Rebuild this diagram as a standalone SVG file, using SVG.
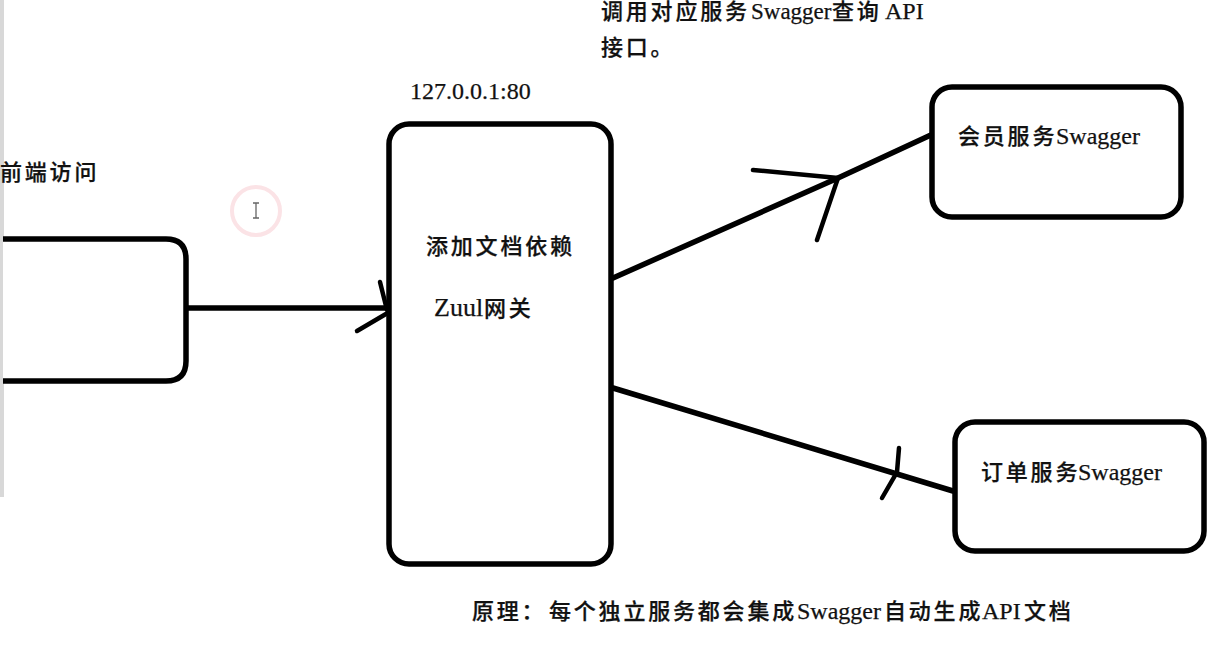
<svg xmlns="http://www.w3.org/2000/svg" width="1225" height="648" viewBox="0 0 1225 648">
<style>
.box{fill:#fff;stroke:#000;stroke-width:5.5}
.ln{fill:none;stroke:#000;stroke-width:5.5;stroke-linecap:round}
.thin{stroke-width:4.5}
text{font-family:"Liberation Serif","Noto Sans CJK SC",serif;font-size:22px;fill:#111;font-weight:500;stroke:#111;stroke-width:.25;letter-spacing:2.8px}
.l{font-size:24px;letter-spacing:0}
</style>
<rect width="1225" height="648" fill="#fff"/>
<rect x="0" y="0" width="4" height="497" fill="#d8d8d8"/>
<g id="cursor">
<circle cx="256" cy="211" r="24" fill="#fff" stroke="#fbe3e6" stroke-width="4"/>
<path d="M253 203h6M256 203v15M253 218h6" fill="none" stroke="#666" stroke-width="1.3"/>
</g>
<g id="connectors">
<path class="ln" d="M187 308H388"/>
<path class="ln thin" d="M380 282L387 310M357 331L391 311"/>
<path class="ln" d="M613 278L838 178L933 134"/>
<path class="ln thin" d="M753 170L838 178L817 240"/>
<path class="ln" d="M613 388L953 491"/>
<path class="ln thin" d="M899 448L897 472L882 498"/>
</g>
<g id="frontend">
<path class="box" d="M3 239H166Q186 239 186 259V361Q186 381 166 381H3"/>
<text x="0" y="180">前端访问</text>
</g>
<g id="gateway">
<rect class="box" x="389" y="124" width="222" height="440" rx="20"/>
<text x="426" y="254">添加文档依赖</text>
<text x="434" y="316"><tspan class="l" style="font-size:26px">Zuul</tspan><tspan x="484">网关</tspan></text>
</g>
<g id="member-service">
<rect class="box" x="932" y="87" width="249" height="130" rx="20"/>
<text x="958" y="144">会员服务<tspan class="l" x="1056">Swagger</tspan></text>
</g>
<g id="order-service">
<rect class="box" x="955" y="422" width="249" height="129" rx="20"/>
<text x="981" y="480">订单服务<tspan class="l" x="1078">Swagger</tspan></text>
</g>
<g id="labels">
<text x="410" y="99" class="l">127.0.0.1:80</text>
<text x="601" y="19">调用对应服务<tspan class="l" x="751" style="font-size:23px">Swagger</tspan><tspan x="832">查询</tspan><tspan class="l" x="885">API</tspan></text>
<text x="601" y="55">接口。</text>
<text x="472" y="619">原理：<tspan x="549">每个独立服务都会集成</tspan><tspan class="l" x="797">Swagger</tspan><tspan x="884">自动生成</tspan><tspan class="l" x="982">API</tspan><tspan x="1024">文档</tspan></text>
</g>
</svg>
